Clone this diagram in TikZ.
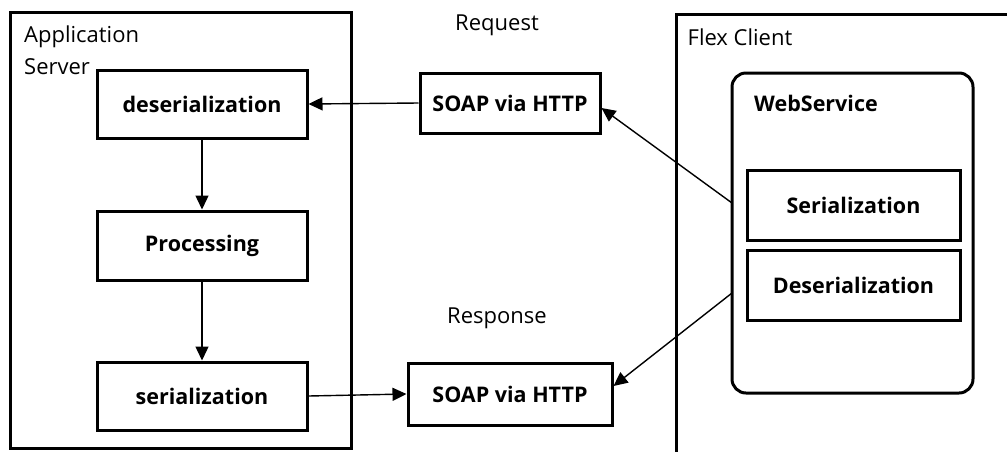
\documentclass[tikz,border=0pt]{standalone}
\usepackage{fontspec}
\setmainfont{Open Sans}
\usetikzlibrary{arrows.meta,positioning}
\begin{document}
\begin{tikzpicture}[x=1pt,y=-1pt,
  box/.style={draw,line width=3pt,inner sep=0pt,font=\fontsize{21.5}{24}\selectfont\bfseries},
  frame/.style={draw,line width=3pt},
  lbl/.style={font=\fontsize{22}{26}\selectfont,inner sep=0pt},
  arr/.style={line width=1.4pt,-{Triangle[length=14pt,width=13pt]}}]
\useasboundingbox (0,0) rectangle (1007,451);
\begin{scope}
\clip (0,0) rectangle (1007,451);
\draw[frame] (10,12) rectangle (351,448);
\draw[frame] (676,460) -- (676,14) -- (1020,14);
\end{scope}
\node[lbl,anchor=west] (appl) at (24,37) {Application};
\node[lbl,anchor=west] (serv) at (24,67) {Server};
\node[lbl] (flex) at (740,37) {Flex Client};
\node[lbl] (req) at (497,25) {Request};
\node[lbl] (resp) at (497,318) {Response};

\node[box,minimum width=210,minimum height=68] (des) at (202,104) {deserialization};
\node[box,minimum width=210,minimum height=69] (proc) at (202,245.5) {Processing};
\node[box,minimum width=210,minimum height=68] (ser) at (202,396) {serialization};
\node[box,minimum width=180,minimum height=60] (soap1) at (510,103) {SOAP via HTTP};
\node[box,minimum width=204,minimum height=62] (soap2) at (510,394) {SOAP via HTTP};

\node[draw,line width=3pt,rounded corners=14pt,minimum width=241,minimum height=320,inner sep=0pt] (ws) at (852.5,233) {};
\node[lbl,font=\fontsize{21.5}{24}\selectfont\bfseries] (wsl) at (816,103) {WebService};
\node[box,minimum width=213,minimum height=70] (wser) at (853.5,205) {Serialization};
\node[box,minimum width=213,minimum height=70] (wdes) at (853.5,285) {Deserialization};

\coordinate (a1) at (732,203);
\coordinate (a2) at (732,293);
\draw[arr] (soap1.west) -- (des.east);
\draw[arr] (des) -- (proc);
\draw[arr] (proc) -- (ser);
\draw[arr] (ser.east) -- (soap2.west);
\draw[arr] (a1) -- ([yshift=-5]soap1.east);
\draw[arr] (a2) -- ([yshift=8]soap2.east);
\end{tikzpicture}
\end{document}
